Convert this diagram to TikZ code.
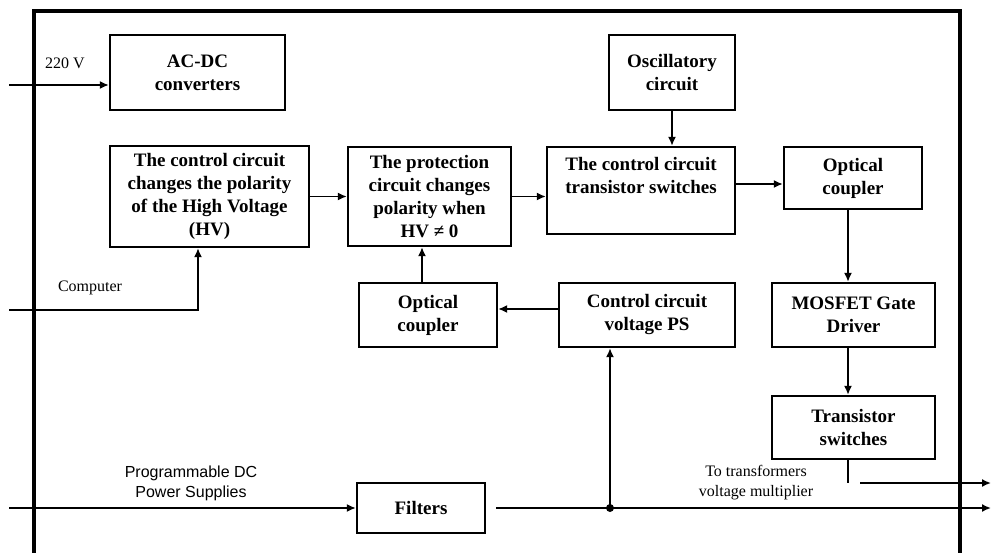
\documentclass[tikz,border=0pt]{standalone}
\usepackage{fontspec}
\setmainfont{Liberation Serif}
\newfontfamily\arialfont{Liberation Sans}
\usetikzlibrary{arrows.meta,calc}
\newcommand\boxfont{\bfseries\fontsize{19}{23}\selectfont}
\newcommand\lblfont{\fontsize{16}{20}\selectfont}
\begin{document}
\begin{tikzpicture}[x=1pt,y=-1pt,
  box/.style={draw, line width=2.3pt, inner sep=0pt, align=center, font=\boxfont},
  boxtext/.style={inner sep=0pt, align=center, font=\boxfont},
  arr/.style={line width=1.7pt, -{Latex[length=9pt,width=8pt]}},
  ln/.style={line width=1.7pt},
  lbl/.style={font=\lblfont, align=center, inner sep=0pt},
  frame/.style={line width=3.5pt}]
\useasboundingbox (0,0) rectangle (992,553);
\draw[frame] (34,553) -- (34,11) -- (960,11) -- (960,553);

% boxes
\node[box, minimum width=175, minimum height=75] (acdc) at (197.5,72.5) {AC-DC\\converters};
\node[box, minimum width=126, minimum height=75] (osc) at (672,72.5) {Oscillatory\\circuit};
\node[box, minimum width=199, minimum height=101] (hv) at (209.5,196.5) {The control circuit\\changes the polarity\\of the High Voltage\\(HV)};
\node[box, minimum width=163, minimum height=99] (prot) at (429.5,196.5) {The protection\\circuit changes\\polarity when\\HV ≠ 0};
\node[box, minimum width=188, minimum height=87] (cts) at (641,190.5) {};
\node[boxtext] (ctst) at (641,176) {The control circuit\\transistor switches};
\node[box, minimum width=138, minimum height=62] (oc1) at (853,178) {Optical\\coupler};
\node[box, minimum width=163, minimum height=64] (mos) at (853.5,315) {MOSFET Gate\\Driver};
\node[box, minimum width=163, minimum height=63] (tsw) at (853.5,427.5) {Transistor\\switches};
\node[box, minimum width=138, minimum height=64] (oc2) at (428,315) {Optical\\coupler};
\node[box, minimum width=176, minimum height=64] (ps) at (647,315) {Control circuit\\voltage PS};
\node[box, minimum width=128, minimum height=50] (filt) at (421,508) {Filters};

% labels
\node[lbl] (l220) at (65,63) {220 V};
\node[lbl] (lcomp) at (90,288) {Computer};
\node[lbl, font=\arialfont\lblfont] (lpds) at (191,483) {Programmable DC\\Power Supplies};
\node[lbl] (ltr) at (756,483) {To transformers\\voltage multiplier};

% coordinates
\coordinate (in220) at (9,85);
\coordinate (incomp) at (9,310);
\coordinate (cbend) at (198,310);
\coordinate (vx) at (848,0);
\coordinate (tend) at (848,483);
\coordinate (out1s) at (860,483);
\coordinate (out1e) at (991,483);
\coordinate (inpds) at (9,508);
\coordinate (fstart) at (496,508);
\coordinate (junc) at (610,508);
\coordinate (out2e) at (991,508);
\coordinate (ox) at (422,0);
\coordinate (ry) at (0,184);
\coordinate (py) at (0,309);

% connectors
\draw[arr] (in220) -- (in220 -| acdc.west);
\draw[arr] (incomp) -- (cbend) -- (cbend |- hv.south);
\draw[arr] (hv.east) -- (prot.west);
\draw[arr] (prot.east) -- (prot.east -| cts.west);
\draw[arr] (osc.south) -- (osc.south |- cts.north);
\draw[arr] (cts.east |- ry) -- (oc1.west |- ry);
\draw[arr] (oc1.south -| vx) -- (mos.north -| vx);
\draw[arr] (mos.south -| vx) -- (tsw.north -| vx);
\draw[ln] (tsw.south -| vx) -- (tend);
\draw[arr] (out1s) -- (out1e);
\draw[arr] (inpds) -- (filt.west);
\draw[arr] (fstart) -- (out2e);
\fill (junc) circle (4);
\draw[arr] (junc) -- (junc |- ps.south);
\draw[arr] (ps.west |- py) -- (oc2.east |- py);
\draw[arr] (oc2.north -| ox) -- (prot.south -| ox);
\end{tikzpicture}
\end{document}
